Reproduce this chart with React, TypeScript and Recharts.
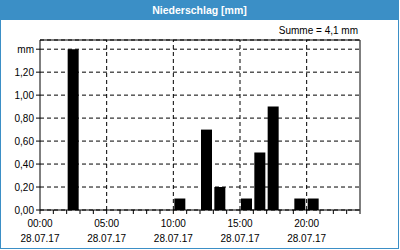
import React from "react"
import { BarChart, Bar, XAxis, YAxis, CartesianGrid, ReferenceLine } from "recharts"

const hours = [0, 1, 2, 3, 4, 5, 6, 7, 8, 9, 10, 11, 12, 13, 14, 15, 16, 17, 18, 19, 20, 21, 22, 23]
const rain = [0, 0, 1.4, 0, 0, 0, 0, 0, 0, 0, 0.1, 0, 0.7, 0.2, 0, 0.1, 0.5, 0.9, 0, 0.1, 0.1, 0, 0, 0]
const xTicks = [0, 1, 2, 3, 4, 5, 6, 7, 8, 9, 10, 11, 12, 13, 14, 15, 16, 17, 18, 19, 20, 21, 22, 23, 24]
const labelHours = [0, 5, 10, 15, 20]
const timeLabels = ["00:00", "05:00", "10:00", "15:00", "20:00"]
const dateLabel = "28.07.17"
const yTicks = [0, 0.2, 0.4, 0.6, 0.8, 1.0, 1.2, 1.4]
const yMax = 1.48
const summe = "Summe = 4,1 mm"

const data = hours.map((h, i) => ({ x: h + 0.5, mm: rain[i] }))

const font = "'Liberation Sans', Arial, sans-serif"

function TimeTick(props: any) {
  const { x, y, payload } = props
  const idx = labelHours.indexOf(payload.value)
  if (idx < 0) return null
  return (
    <g>
      <text x={x} y={y} dy={10.5} textAnchor="middle" fontSize={10} fontFamily={font} fill="#000">
        {timeLabels[idx]}
      </text>
      <text x={x} y={y} dy={25.5} textAnchor="middle" fontSize={10} fontFamily={font} fill="#000">
        {dateLabel}
      </text>
    </g>
  )
}

const fmtY = (v: number) => (v === 1.4 ? "mm" : v.toFixed(2).replace(".", ","))

export default function App() {
  return (
    <div style={{ position: "relative", width: 400, height: 250, background: "#fff" }}>
      <style>{`body{margin:0}`}</style>
      <div
        style={{
          position: "absolute",
          left: 0,
          top: 0,
          width: 397,
          height: 247,
          border: "1px solid #3b8fc6",
        }}
      />
      <div
        style={{
          position: "absolute",
          left: 0,
          top: 0,
          width: 399,
          height: 20,
          background: "#3b8fc6",
          color: "#fff",
          fontFamily: font,
          fontWeight: "bold",
          fontSize: 10.5,
          lineHeight: "20px",
          textAlign: "center",
        }}
      >
        Niederschlag [mm]
      </div>
      <div
        style={{
          position: "absolute",
          right: 42,
          top: 25,
          fontFamily: font,
          fontSize: 10,
          lineHeight: "12px",
          color: "#000",
        }}
      >
        {summe}
      </div>
      <div style={{ position: "absolute", left: 0, top: 0 }}>
        <BarChart width={400} height={250} data={data} margin={{ top: 40, right: 40, left: 0, bottom: 5 }}>
          <CartesianGrid vertical={false} stroke="#000" strokeDasharray="4 3" />
          <XAxis
            dataKey="x"
            type="number"
            domain={[0, 24]}
            ticks={xTicks}
            interval={0}
            height={35}
            tickSize={4}
            stroke="#000"
            tickLine={{ stroke: "#000" }}
            tick={<TimeTick />}
          />
          <YAxis
            domain={[0, yMax]}
            ticks={yTicks}
            width={40}
            tickSize={4}
            stroke="#000"
            interval={0}
            tickFormatter={fmtY}
            tick={{ fontSize: 10, fontFamily: font, fill: "#000" }}
          />
          {labelHours.slice(1).map((h) => (
            <ReferenceLine key={h} x={h} stroke="#000" strokeDasharray="4 3" />
          ))}
          <ReferenceLine y={yMax} stroke="#000" />
          <ReferenceLine x={24} stroke="#000" />
          <Bar dataKey="mm" fill="#000" barSize={11} isAnimationActive={false} />
        </BarChart>
      </div>
    </div>
  )
}
